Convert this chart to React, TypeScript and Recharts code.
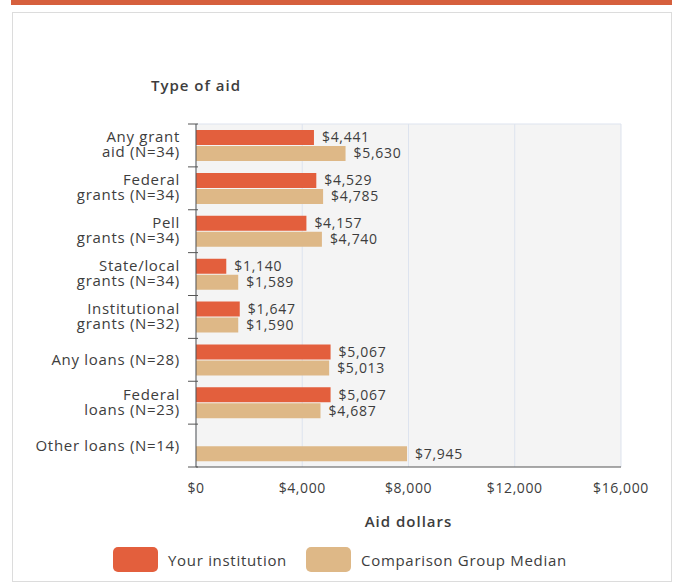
import { BarChart, Bar, XAxis, YAxis, CartesianGrid, LabelList, Label } from "recharts";

const categories = [
  "Any grant aid (N=34)",
  "Federal grants (N=34)",
  "Pell grants (N=34)",
  "State/local grants (N=34)",
  "Institutional grants (N=32)",
  "Any loans (N=28)",
  "Federal loans (N=23)",
  "Other loans (N=14)",
];
// two-line label splits, as drawn in the picture
const labelLines = [
  ["Any grant", "aid (N=34)"],
  ["Federal", "grants (N=34)"],
  ["Pell", "grants (N=34)"],
  ["State/local", "grants (N=34)"],
  ["Institutional", "grants (N=32)"],
  ["Any loans (N=28)"],
  ["Federal", "loans (N=23)"],
  ["Other loans (N=14)"],
];
const yourInstitution = [4441, 4529, 4157, 1140, 1647, 5067, 5067, null];
const comparisonMedian = [5630, 4785, 4740, 1589, 1590, 5013, 4687, 7945];
const xTicks = [0, 4000, 8000, 12000, 16000];

const data = categories.map((name, i) => ({
  name,
  yours: yourInstitution[i],
  median: comparisonMedian[i],
}));

const ORANGE = "#e35f3d";
const TAN = "#deb887";
const FONT = "'Open Sans', sans-serif";
const TEXT = "#3d3d3d";
const money = (v: any) => (v == null ? "" : "$" + Number(v).toLocaleString("en-US"));

function CategoryTick(props: any) {
  const { x, y, payload, index } = props;
  const half = payload.offset || 0;
  const lines = labelLines[index] || [payload.value];
  const axisX = x + 10;
  return (
    <g>
      <line x1={axisX - 10} x2={axisX} y1={y - half} y2={y - half} stroke="#555" />
      {index === categories.length - 1 && (
        <line x1={axisX - 10} x2={axisX} y1={y + half} y2={y + half} stroke="#555" />
      )}
      <text
        x={x - 8}
        y={y}
        textAnchor="end"
        fill={TEXT}
        fontSize={15}
        letterSpacing={0.7}
        fontFamily={FONT}
      >
        {lines.map((l: string, k: number) => (
          <tspan key={k} x={x - 8} dy={k === 0 ? (lines.length === 1 ? 5 : -3) : 15}>
            {l}
          </tspan>
        ))}
      </text>
    </g>
  );
}

function Swatch({ color, label }: { color: string; label: string }) {
  return (
    <div style={{ display: "flex", alignItems: "center", marginRight: 19 }}>
      <div style={{ width: 45, height: 25, background: color, borderRadius: 5, marginRight: 10 }} />
      <span style={{ fontSize: 15, letterSpacing: 0.7, color: TEXT, fontFamily: FONT }}>{label}</span>
    </div>
  );
}

export default function App() {
  return (
    <div style={{ position: "absolute", left: 0, top: 0, width: 675, height: 584, background: "#fff" }}>
      <div style={{ position: "absolute", left: 11, top: 0, width: 661, height: 5, background: "#d6603d" }} />
      <div
        style={{
          position: "absolute",
          left: 12,
          top: 12,
          width: 660,
          height: 570,
          border: "1px solid #dcdcdc",
          boxSizing: "border-box",
        }}
      />
      <div style={{ position: "absolute", left: 0, top: 0 }}>
        <BarChart
          width={675}
          height={584}
          data={data}
          layout="vertical"
          margin={{ top: 124, right: 54, bottom: 57, left: 10 }}
          barSize={15}
          barGap={1}
        >
          <CartesianGrid
            fill="#f4f4f4"
            stroke="#dde3ee"
            horizontalCoordinatesGenerator={({ offset }: any) => [offset.top]}
          />
          <XAxis
            type="number"
            domain={[0, 16000]}
            ticks={xTicks}
            tickFormatter={money}
            tickLine={false}
            axisLine={{ stroke: "#555" }}
            tick={{ fill: TEXT, fontSize: 14, letterSpacing: 0.6, fontFamily: FONT }}
            tickMargin={10}
            height={60}
          >
            <Label
              value="Aid dollars"
              position="insideBottom"
              offset={0}
              style={{ fill: TEXT, fontSize: 15, letterSpacing: 1, fontFamily: FONT, fontWeight: 600 }}
            />
          </XAxis>
          <YAxis
            type="category"
            dataKey="name"
            width={186}
            tickLine={false}
            axisLine={{ stroke: "#555" }}
            tick={<CategoryTick />}
            interval={0}
          >
            <Label
              content={({ viewBox }: any) => (
                <text
                  x={viewBox.x + viewBox.width}
                  y={viewBox.y - 33}
                  textAnchor="middle"
                  fill={TEXT}
                  fontSize={15}
                  letterSpacing={1}
                  fontWeight={600}
                  fontFamily={FONT}
                >
                  Type of aid
                </text>
              )}
            />
          </YAxis>
          <Bar dataKey="yours" fill={ORANGE} isAnimationActive={false}>
            <LabelList
              dataKey="yours"
              position="right"
              offset={8}
              formatter={money}
              style={{ fill: TEXT, fontSize: 14, letterSpacing: 0.7, fontFamily: FONT }}
            />
          </Bar>
          <Bar dataKey="median" fill={TAN} isAnimationActive={false}>
            <LabelList
              dataKey="median"
              position="right"
              offset={8}
              formatter={money}
              style={{ fill: TEXT, fontSize: 14, letterSpacing: 0.7, fontFamily: FONT }}
            />
          </Bar>
        </BarChart>
      </div>
      <div
        style={{
          position: "absolute",
          left: 113,
          top: 547,
          display: "flex",
          alignItems: "center",
        }}
      >
        <Swatch color={ORANGE} label="Your institution" />
        <Swatch color={TAN} label="Comparison Group Median" />
      </div>
    </div>
  );
}
